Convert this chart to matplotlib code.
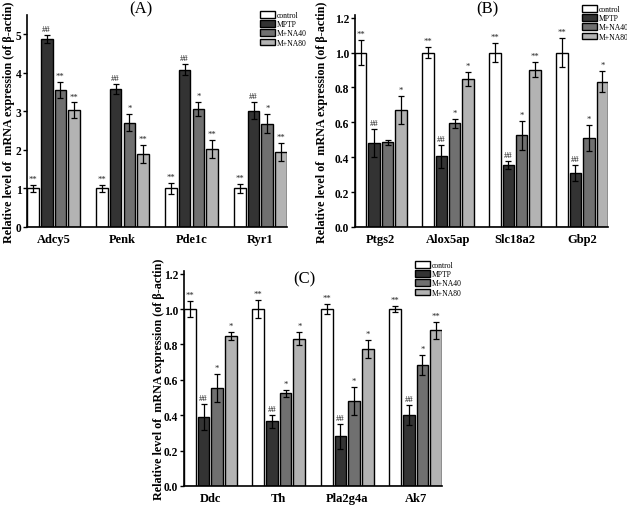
import numpy as np
import matplotlib
matplotlib.use("Agg")
import matplotlib.pyplot as plt
from matplotlib.patches import Patch

plt.rcParams['font.family'] = ['Liberation Serif', 'DejaVu Serif']

groups = ["control", "MPTP", "M+NA40", "M+NA80"]
colors = ["#ffffff", "#333333", "#707070", "#b3b3b3"]

# panel A
genes_a = ["Adcy5", "Penk", "Pde1c", "Ryr1"]
mean_a = [[1.0, 1.0, 1.0, 1.0],
          [4.88, 3.57, 4.08, 3.02],
          [3.55, 2.70, 3.06, 2.68],
          [3.03, 1.90, 2.02, 1.94]]
err_a = [[0.08, 0.09, 0.14, 0.11],
         [0.10, 0.13, 0.14, 0.22],
         [0.20, 0.22, 0.18, 0.24],
         [0.20, 0.23, 0.23, 0.23]]
sig_a = [["**", "**", "**", "**"],
         ["##", "##", "##", "##"],
         ["**", "*", "*", "*"],
         ["**", "**", "**", "**"]]

# panel B
genes_b = ["Ptgs2", "Alox5ap", "Slc18a2", "Gbp2"]
mean_b = [[1.0, 1.0, 1.0, 1.0],
          [0.48, 0.405, 0.355, 0.31],
          [0.485, 0.595, 0.525, 0.51],
          [0.67, 0.85, 0.90, 0.833]]
err_b = [[0.072, 0.032, 0.055, 0.085],
         [0.08, 0.067, 0.025, 0.046],
         [0.015, 0.025, 0.085, 0.072],
         [0.08, 0.04, 0.043, 0.062]]
sig_b = [["**", "**", "**", "**"],
         ["##", "##", "##", "##"],
         ["", "*", "*", "*"],
         ["*", "*", "**", "*"]]

# panel C
genes_c = ["Ddc", "Th", "Pla2g4a", "Ak7"]
mean_c = [[1.0, 1.0, 1.0, 1.0],
          [0.39, 0.365, 0.28, 0.40],
          [0.555, 0.525, 0.48, 0.685],
          [0.848, 0.832, 0.775, 0.88]]
err_c = [[0.043, 0.053, 0.027, 0.015],
         [0.073, 0.037, 0.072, 0.057],
         [0.078, 0.02, 0.077, 0.057],
         [0.022, 0.038, 0.05, 0.048]]
sig_c = [["**", "**", "**", "**"],
         ["##", "##", "##", "##"],
         ["*", "*", "*", "*"],
         ["*", "*", "*", "**"]]

ylab = "Relative level of  mRNA expression (of \u03b2-actin)"

fig = plt.figure(figsize=(6.27, 5.06), dpi=100)


def draw_panel(rect, genes, means, errs, sigs, ylim, yticks, fmt, title, title_xy,
               leg_xy, ylabel_x):
    ax = fig.add_axes(rect)
    x = np.arange(len(genes))
    pitch = 0.2
    width = 0.17
    for k in range(4):
        pos = x + (k - 1.5) * pitch
        ax.bar(pos, means[k], width, color=colors[k], edgecolor="black",
               linewidth=1.0, zorder=2)
        ax.errorbar(pos, means[k], yerr=errs[k], fmt="none", ecolor="black",
                    elinewidth=0.9, capsize=2.2, capthick=0.9, zorder=3)
        for p, m, e, s in zip(pos, means[k], errs[k], sigs[k]):
            if s:
                ax.annotate(s, (p, m + e), xytext=(0, 1.5), textcoords="offset points",
                            ha="center", va="bottom", fontsize=6.2, color="#222222")
    ax.set_xlim(-0.385, len(genes) - 1 + 0.385)
    ax.set_ylim(*ylim)
    ax.set_xticks(x)
    ax.set_xticklabels(genes, fontsize=9, fontweight="bold")
    ax.set_yticks(yticks)
    ax.set_yticklabels([fmt.format(v) for v in yticks], fontsize=8.3, fontweight="bold")
    ax.tick_params(axis="x", length=0, pad=4)
    ax.tick_params(axis="y", direction="out", length=3, width=1, pad=1)
    for side in ["top", "right"]:
        ax.spines[side].set_visible(False)
    for side in ["left", "bottom"]:
        ax.spines[side].set_linewidth(1.2)
    ax.set_ylabel(ylab, fontsize=8.7, fontweight="bold")
    ax.yaxis.set_label_coords(ylabel_x, 0.5)
    fig.text(title_xy[0], title_xy[1], title, ha="center", va="center", fontsize=12)
    handles = [Patch(facecolor=c, edgecolor="black", linewidth=1.0) for c in colors]
    fig.legend(handles, groups, loc="upper left", bbox_to_anchor=leg_xy,
               frameon=False, fontsize=5.5, handlelength=2.0, handleheight=1.0,
               labelspacing=0.15, handletextpad=0.25, borderpad=0, borderaxespad=0)
    return ax


draw_panel([27 / 627, 1 - 228 / 506, 260 / 627, 212 / 506], genes_a, mean_a, err_a, sig_a,
           (0, 5.5), [0, 1, 2, 3, 4, 5], "{:d}", "(A)", (141 / 627, 1 - 9 / 506),
           (260 / 627, 1 - 12 / 506), -0.045)
draw_panel([355 / 627, 1 - 228 / 506, 253 / 627, 212 / 506], genes_b, mean_b, err_b, sig_b,
           (0, 1.215), [0, 0.2, 0.4, 0.6, 0.8, 1.0, 1.2], "{:.1f}", "(B)",
           (487 / 627, 1 - 9 / 506), (582 / 627, 1 - 6 / 506), -0.105)
draw_panel([184 / 627, 1 - 487 / 506, 258 / 627, 215 / 506], genes_c, mean_c, err_c, sig_c,
           (0, 1.215), [0, 0.2, 0.4, 0.6, 0.8, 1.0, 1.2], "{:.1f}", "(C)",
           (304 / 627, 1 - 279 / 506), (415 / 627, 1 - 262 / 506), -0.075)

fig.savefig("out.png", dpi=100)
